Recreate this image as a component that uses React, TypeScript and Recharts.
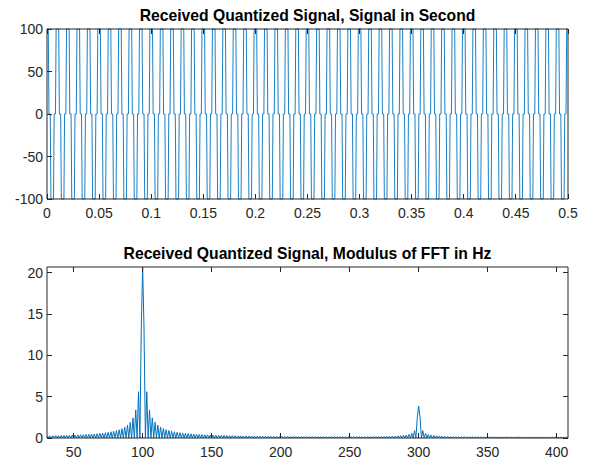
import React from "react";
import { LineChart, Line, XAxis, YAxis } from "recharts";

// received signal, quantized to three levels, 100 Hz tone sampled at 1600 Hz
const SAMPLE_RATE_HZ = 1600;
const SIGNAL_LEVELS = [
  100, 100, 100, 0, 0, 0, -100, -100, -100, -100, -100, 0, 0, 0, 100, 100,
  100, 100, 100, 0, 0, 0, -100, -100, -100, -100, -100, 0, 0, 0, 100, 100,
  100, 100, 100, 0, 0, 0, -100, -100, -100, -100, -100, 0, 0, 0, 100, 100,
  100, 100, 100, 0, 0, 0, -100, -100, -100, -100, -100, 0, 0, 0, 100, 100,
  100, 100, 100, 0, 0, 0, -100, -100, -100, -100, -100, 0, 0, 0, 100, 100,
  100, 100, 100, 0, 0, 0, -100, -100, -100, -100, -100, 0, 0, 0, 100, 100,
  100, 100, 100, 0, 0, 0, -100, -100, -100, -100, -100, 0, 0, 0, 100, 100,
  100, 100, 100, 0, 0, 0, -100, -100, -100, -100, -100, 0, 0, 0, 100, 100,
  100, 100, 100, 0, 0, 0, -100, -100, -100, -100, -100, 0, 0, 0, 100, 100,
  100, 100, 100, 0, 0, 0, -100, -100, -100, -100, -100, 0, 0, 0, 100, 100,
  100, 100, 100, 0, 0, 0, -100, -100, -100, -100, -100, 0, 0, 0, 100, 100,
  100, 100, 100, 0, 0, 0, -100, -100, -100, -100, -100, 0, 0, 0, 100, 100,
  100, 100, 100, 0, 0, 0, -100, -100, -100, -100, -100, 0, 0, 0, 100, 100,
  100, 100, 100, 0, 0, 0, -100, -100, -100, -100, -100, 0, 0, 0, 100, 100,
  100, 100, 100, 0, 0, 0, -100, -100, -100, -100, -100, 0, 0, 0, 100, 100,
  100, 100, 100, 0, 0, 0, -100, -100, -100, -100, -100, 0, 0, 0, 100, 100,
  100, 100, 100, 0, 0, 0, -100, -100, -100, -100, -100, 0, 0, 0, 100, 100,
  100, 100, 100, 0, 0, 0, -100, -100, -100, -100, -100, 0, 0, 0, 100, 100,
  100, 100, 100, 0, 0, 0, -100, -100, -100, -100, -100, 0, 0, 0, 100, 100,
  100, 100, 100, 0, 0, 0, -100, -100, -100, -100, -100, 0, 0, 0, 100, 100,
  100, 100, 100, 0, 0, 0, -100, -100, -100, -100, -100, 0, 0, 0, 100, 100,
  100, 100, 100, 0, 0, 0, -100, -100, -100, -100, -100, 0, 0, 0, 100, 100,
  100, 100, 100, 0, 0, 0, -100, -100, -100, -100, -100, 0, 0, 0, 100, 100,
  100, 100, 100, 0, 0, 0, -100, -100, -100, -100, -100, 0, 0, 0, 100, 100,
  100, 100, 100, 0, 0, 0, -100, -100, -100, -100, -100, 0, 0, 0, 100, 100,
  100, 100, 100, 0, 0, 0, -100, -100, -100, -100, -100, 0, 0, 0, 100, 100,
  100, 100, 100, 0, 0, 0, -100, -100, -100, -100, -100, 0, 0, 0, 100, 100,
  100, 100, 100, 0, 0, 0, -100, -100, -100, -100, -100, 0, 0, 0, 100, 100,
  100, 100, 100, 0, 0, 0, -100, -100, -100, -100, -100, 0, 0, 0, 100, 100,
  100, 100, 100, 0, 0, 0, -100, -100, -100, -100, -100, 0, 0, 0, 100, 100,
  100, 100, 100, 0, 0, 0, -100, -100, -100, -100, -100, 0, 0, 0, 100, 100,
  100, 100, 100, 0, 0, 0, -100, -100, -100, -100, -100, 0, 0, 0, 100, 100,
  100, 100, 100, 0, 0, 0, -100, -100, -100, -100, -100, 0, 0, 0, 100, 100,
  100, 100, 100, 0, 0, 0, -100, -100, -100, -100, -100, 0, 0, 0, 100, 100,
  100, 100, 100, 0, 0, 0, -100, -100, -100, -100, -100, 0, 0, 0, 100, 100,
  100, 100, 100, 0, 0, 0, -100, -100, -100, -100, -100, 0, 0, 0, 100, 100,
  100, 100, 100, 0, 0, 0, -100, -100, -100, -100, -100, 0, 0, 0, 100, 100,
  100, 100, 100, 0, 0, 0, -100, -100, -100, -100, -100, 0, 0, 0, 100, 100,
  100, 100, 100, 0, 0, 0, -100, -100, -100, -100, -100, 0, 0, 0, 100, 100,
  100, 100, 100, 0, 0, 0, -100, -100, -100, -100, -100, 0, 0, 0, 100, 100,
  100, 100, 100, 0, 0, 0, -100, -100, -100, -100, -100, 0, 0, 0, 100, 100,
  100, 100, 100, 0, 0, 0, -100, -100, -100, -100, -100, 0, 0, 0, 100, 100,
  100, 100, 100, 0, 0, 0, -100, -100, -100, -100, -100, 0, 0, 0, 100, 100,
  100, 100, 100, 0, 0, 0, -100, -100, -100, -100, -100, 0, 0, 0, 100, 100,
  100, 100, 100, 0, 0, 0, -100, -100, -100, -100, -100, 0, 0, 0, 100, 100,
  100, 100, 100, 0, 0, 0, -100, -100, -100, -100, -100, 0, 0, 0, 100, 100,
  100, 100, 100, 0, 0, 0, -100, -100, -100, -100, -100, 0, 0, 0, 100, 100,
  100, 100, 100, 0, 0, 0, -100, -100, -100, -100, -100, 0, 0, 0, 100, 100,
  100, 100, 100, 0, 0, 0, -100, -100, -100, -100, -100, 0, 0, 0, 100, 100,
  100, 100, 100, 0, 0, 0, -100, -100, -100, -100, -100, 0, 0, 0, 100, 100,
  100,
];
const TIME_TICKS = [0, 0.05, 0.1, 0.15, 0.2, 0.25, 0.3, 0.35, 0.4, 0.45, 0.5];
const LEVEL_TICKS = [-100, -50, 0, 50, 100];

// |FFT| on a 1 Hz grid starting at FFT_START_HZ
const FFT_START_HZ = 30;
const FFT_MAGNITUDE = [
  0, 0.25, 0, 0.26, 0, 0.27, 0, 0.28, 0, 0.29, // 30
  0, 0.30, 0, 0.31, 0, 0.32, 0, 0.33, 0, 0.34, // 40
  0, 0.36, 0, 0.37, 0, 0.39, 0, 0.40, 0, 0.42, // 50
  0, 0.44, 0, 0.47, 0, 0.49, 0, 0.52, 0, 0.56, // 60
  0, 0.60, 0, 0.64, 0, 0.69, 0, 0.75, 0, 0.82, // 70
  0, 0.90, 0, 1.0, 0, 1.13, 0, 1.31, 0, 1.55, // 80
  0, 1.89, 0, 2.43, 0, 3.4, 0, 5.6, 0, 13.2, // 90
  20.7, 13.2, 0, 5.6, 0, 3.4, 0, 2.44, 0, 1.9, // 100
  0, 1.56, 0, 1.32, 0, 1.15, 0, 1.01, 0, 0.91, // 110
  0, 0.82, 0, 0.75, 0, 0.69, 0, 0.64, 0, 0.60, // 120
  0, 0.56, 0, 0.53, 0, 0.50, 0, 0.47, 0, 0.45, // 130
  0, 0.43, 0, 0.41, 0, 0.39, 0, 0.38, 0, 0.36, // 140
  0, 0.35, 0, 0.34, 0, 0.33, 0, 0.32, 0, 0.31, // 150
  0, 0.30, 0, 0.29, 0, 0.28, 0, 0.27, 0, 0.26, // 160
  0, 0.26, 0, 0.25, 0, 0.25, 0, 0.24, 0, 0.23, // 170
  0, 0.23, 0, 0.22, 0, 0.22, 0, 0.21, 0, 0.21, // 180
  0, 0.21, 0, 0.20, 0, 0.20, 0, 0.19, 0, 0.19, // 190
  0, 0.19, 0, 0.19, 0, 0.18, 0, 0.18, 0, 0.18, // 200
  0, 0.18, 0, 0.18, 0, 0.17, 0, 0.17, 0, 0.17, // 210
  0, 0.17, 0, 0.17, 0, 0.17, 0, 0.17, 0, 0.17, // 220
  0, 0.17, 0, 0.17, 0, 0.17, 0, 0.17, 0, 0.17, // 230
  0, 0.16, 0, 0.16, 0, 0.16, 0, 0.16, 0, 0.16, // 240
  0, 0.16, 0, 0.16, 0, 0.16, 0, 0.16, 0, 0.17, // 250
  0, 0.17, 0, 0.17, 0, 0.17, 0, 0.18, 0, 0.18, // 260
  0, 0.18, 0, 0.19, 0, 0.19, 0, 0.20, 0, 0.21, // 270
  0, 0.22, 0, 0.23, 0, 0.25, 0, 0.28, 0, 0.31, // 280
  0, 0.36, 0, 0.43, 0, 0.57, 0, 0.89, 0, 2.5, // 290
  3.86, 2.5, 0, 0.88, 0, 0.56, 0, 0.43, 0, 0.35, // 300
  0, 0.30, 0, 0.27, 0, 0.24, 0, 0.22, 0, 0.20, // 310
  0, 0.19, 0, 0.18, 0, 0.17, 0, 0.16, 0, 0.16, // 320
  0, 0.15, 0, 0.15, 0, 0.14, 0, 0.14, 0, 0.13, // 330
  0, 0.13, 0, 0.13, 0, 0.12, 0, 0.12, 0, 0.12, // 340
  0, 0.12, 0, 0.11, 0, 0.11, 0, 0.11, 0, 0.11, // 350
  0, 0.11, 0, 0.11, 0, 0.11, 0, 0.11, 0, 0.11, // 360
  0, 0.11, 0, 0.10, 0, 0.10, 0, 0.10, 0, 0.10, // 370
  0, 0.10, 0, 0.10, 0, 0.10, 0, 0.10, 0, 0.10, // 380
  0, 0.10, 0, 0.10, 0, 0.10, 0, 0.10, 0, 0.10, // 390
  0, 0.10, 0, 0.10, 0, 0.10, 0, 0.10, 0, // 400
];
const FREQ_DOMAIN = [30.7, 408.2];
const FREQ_TICKS = [50, 100, 150, 200, 250, 300, 350, 400];
const MAG_TICKS = [0, 5, 10, 15, 20];

const signalData = SIGNAL_LEVELS.map((v, i) => ({ t: i / SAMPLE_RATE_HZ, v }));
const fftData = FFT_MAGNITUDE.map((m, i) => ({ f: FFT_START_HZ + i, m }));

const AXIS_COLOR = "#262626";
const LINE_COLOR = "#0072BD";
const FONT = '"Liberation Sans", Arial, Helvetica, sans-serif';
const TICK_LEN = 5;

// ticks point inward, labels sit outside the box
const BottomTick = (props: any) => {
  const { x, y, payload } = props;
  return (
    <g>
      <line x1={x} y1={y} x2={x} y2={y - TICK_LEN} stroke={AXIS_COLOR} shapeRendering="crispEdges" />
      <text x={x} y={y + 19} textAnchor="middle" fontSize={14} fill={AXIS_COLOR} fontFamily={FONT}>
        {String(payload.value)}
      </text>
    </g>
  );
};

const LeftTick = (props: any) => {
  const { x, y, payload } = props;
  return (
    <g>
      <line x1={x} y1={y} x2={x + TICK_LEN} y2={y} stroke={AXIS_COLOR} shapeRendering="crispEdges" />
      <text x={x - 4} y={y + 5} textAnchor="end" fontSize={14} fill={AXIS_COLOR} fontFamily={FONT}>
        {String(payload.value)}
      </text>
    </g>
  );
};

const TopTick = (props: any) => (
  <line x1={props.x} y1={props.y} x2={props.x} y2={props.y + TICK_LEN} stroke={AXIS_COLOR} shapeRendering="crispEdges" />
);

const RightTick = (props: any) => (
  <line x1={props.x} y1={props.y} x2={props.x - TICK_LEN} y2={props.y} stroke={AXIS_COLOR} shapeRendering="crispEdges" />
);

const titleStyle: React.CSSProperties = {
  position: "absolute",
  left: 47,
  width: 521,
  textAlign: "center",
  fontFamily: FONT,
  fontWeight: "bold",
  fontSize: 15.7,
  lineHeight: "14px",
  color: "#000",
  whiteSpace: "nowrap",
};

export default function App() {
  const axisLine = { stroke: AXIS_COLOR };
  return (
    <div
      style={{
        position: "absolute",
        left: 0,
        top: 0,
        width: 590,
        height: 459,
        background: "#fff",
        overflow: "hidden",
      }}
    >
      <div style={{ ...titleStyle, top: 8.6 }}>Received Quantized Signal, Signal in Second</div>
      <div style={{ ...titleStyle, top: 247.4 }}>Received Quantized Signal, Modulus of FFT in Hz</div>

      <div style={{ position: "absolute", left: 0, top: 0 }}>
        <LineChart width={590} height={230} data={signalData} margin={{ top: 28, right: 21, bottom: 30, left: 46 }}>
          <XAxis
            dataKey="t"
            type="number"
            domain={[0, 0.5]}
            ticks={TIME_TICKS}
            interval={0}
            height={1}
            tickSize={0}
            tickMargin={0}
            axisLine={axisLine}
            tick={BottomTick}
          />
          <XAxis
            xAxisId="top"
            orientation="top"
            dataKey="t"
            type="number"
            domain={[0, 0.5]}
            ticks={TIME_TICKS}
            interval={0}
            height={1}
            tickSize={0}
            tickMargin={0}
            axisLine={axisLine}
            tick={TopTick}
          />
          <YAxis
            type="number"
            domain={[-100, 100]}
            ticks={LEVEL_TICKS}
            interval={0}
            width={1}
            tickSize={0}
            tickMargin={0}
            axisLine={axisLine}
            tick={LeftTick}
          />
          <YAxis
            yAxisId="right"
            orientation="right"
            type="number"
            domain={[-100, 100]}
            ticks={LEVEL_TICKS}
            interval={0}
            width={1}
            tickSize={0}
            tickMargin={0}
            axisLine={axisLine}
            tick={RightTick}
          />
          <Line
            type="linear"
            dataKey="v"
            stroke={LINE_COLOR}
            strokeWidth={0.9}
            dot={false}
            isAnimationActive={false}
          />
        </LineChart>
      </div>

      <div style={{ position: "absolute", left: 0, top: 230 }}>
        <LineChart width={590} height={229} data={fftData} margin={{ top: 36, right: 21, bottom: 20, left: 46 }}>
          <XAxis
            dataKey="f"
            type="number"
            domain={FREQ_DOMAIN}
            allowDataOverflow
            ticks={FREQ_TICKS}
            interval={0}
            height={1}
            tickSize={0}
            tickMargin={0}
            axisLine={axisLine}
            tick={BottomTick}
          />
          <XAxis
            xAxisId="top"
            orientation="top"
            dataKey="f"
            type="number"
            domain={FREQ_DOMAIN}
            allowDataOverflow
            ticks={FREQ_TICKS}
            interval={0}
            height={1}
            tickSize={0}
            tickMargin={0}
            axisLine={axisLine}
            tick={TopTick}
          />
          <YAxis
            type="number"
            domain={[0, 20.7]}
            allowDataOverflow
            ticks={MAG_TICKS}
            interval={0}
            width={1}
            tickSize={0}
            tickMargin={0}
            axisLine={axisLine}
            tick={LeftTick}
          />
          <YAxis
            yAxisId="right"
            orientation="right"
            type="number"
            domain={[0, 20.7]}
            allowDataOverflow
            ticks={MAG_TICKS}
            interval={0}
            width={1}
            tickSize={0}
            tickMargin={0}
            axisLine={axisLine}
            tick={RightTick}
          />
          <Line
            type="linear"
            dataKey="m"
            stroke={LINE_COLOR}
            strokeWidth={1}
            dot={false}
            isAnimationActive={false}
          />
        </LineChart>
      </div>
    </div>
  );
}
